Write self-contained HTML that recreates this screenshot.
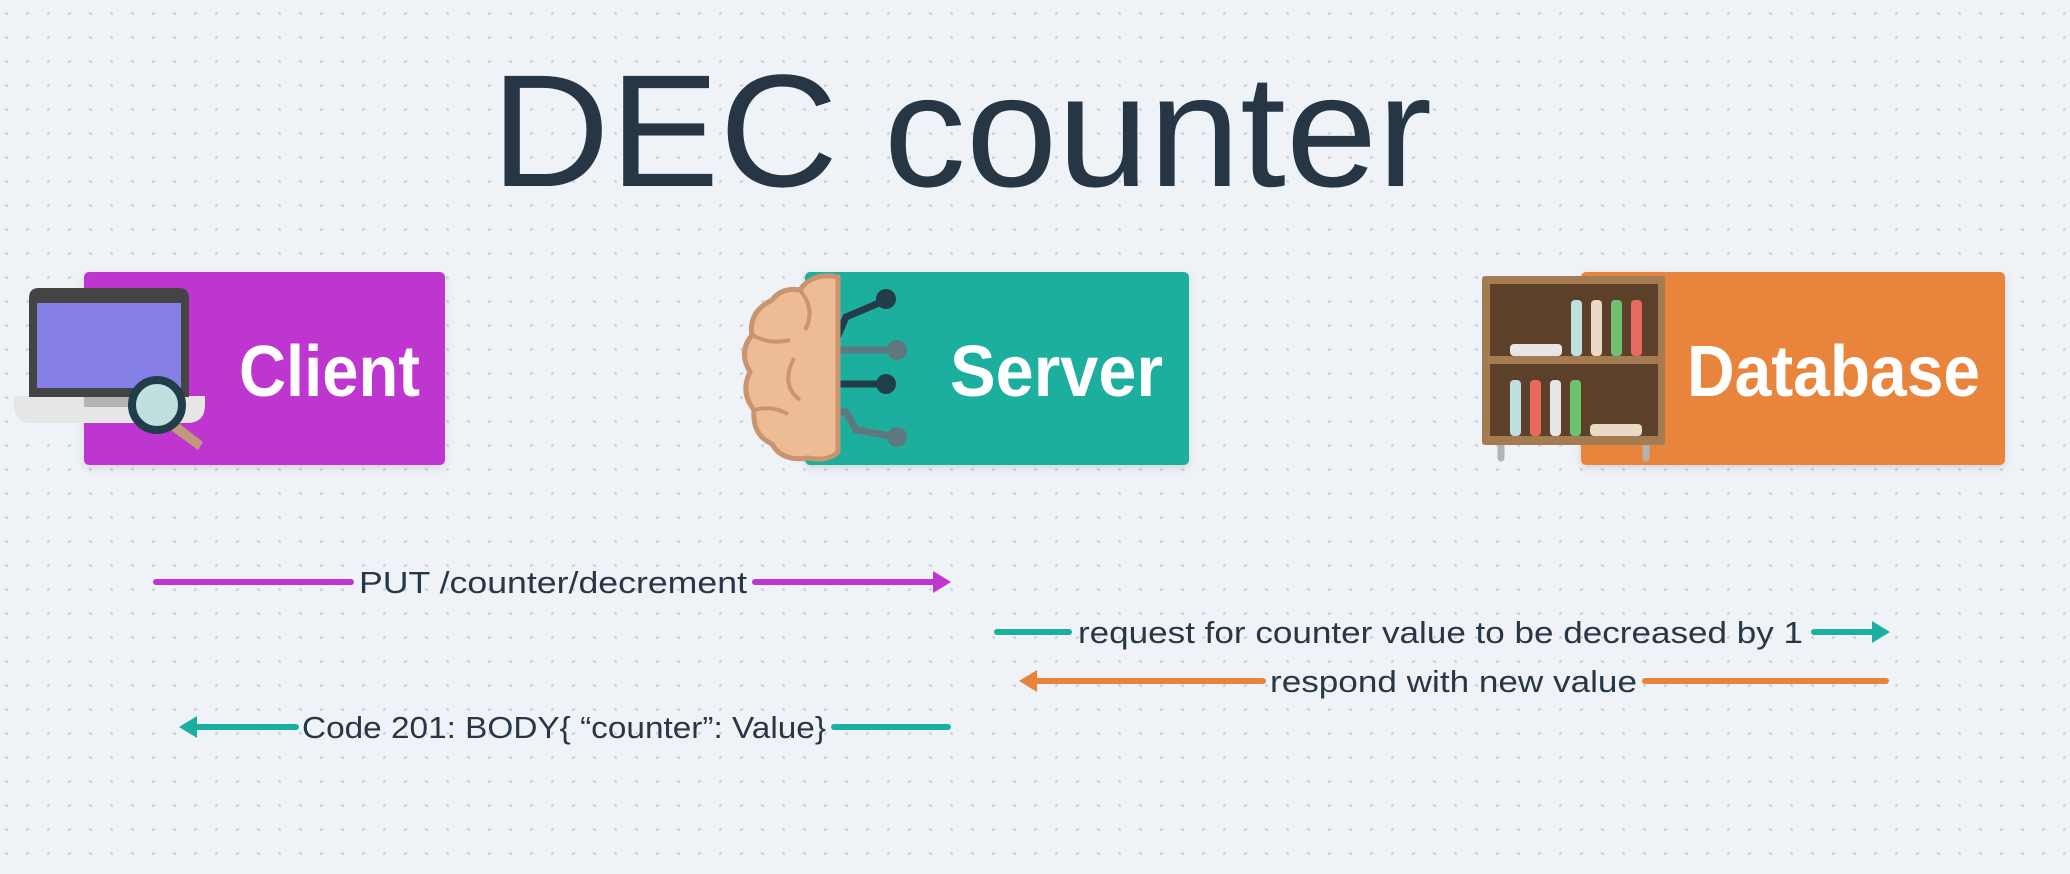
<!DOCTYPE html>
<html><head><meta charset="utf-8"><style>
html,body{margin:0;padding:0;background:#eff3f7;}
svg{display:block;}
</style></head><body>
<svg width="2070" height="874" viewBox="0 0 2070 874" xmlns="http://www.w3.org/2000/svg" font-family="'Liberation Sans', sans-serif">
<defs>
<pattern id="dots" width="21" height="24" patternUnits="userSpaceOnUse" x="5" y="12">
<circle cx="1.5" cy="1.5" r="1.5" fill="#cdd5de"/>
</pattern>
<filter id="sh" x="-10%" y="-10%" width="120%" height="130%"><feDropShadow dx="0" dy="3" stdDeviation="4" flood-color="#000" flood-opacity="0.12"/></filter>
</defs>
<rect width="2070" height="874" fill="#eff3f7"/>
<rect width="2070" height="874" fill="url(#dots)"/>

<text x="491" y="186" font-size="160" fill="#263645" textLength="941" lengthAdjust="spacingAndGlyphs">DEC counter</text>

<!-- boxes -->
<rect x="84" y="272" width="361" height="193" rx="5" fill="#bf35d0" filter="url(#sh)"/>
<rect x="805" y="272" width="384" height="193" rx="5" fill="#1aaf9e" filter="url(#sh)"/>
<rect x="1581" y="272" width="424" height="193" rx="5" fill="#e8843a" filter="url(#sh)"/>
<text x="239" y="396" font-size="72" font-weight="bold" fill="#fff" textLength="181" lengthAdjust="spacingAndGlyphs">Client</text>
<text x="950" y="396" font-size="72" font-weight="bold" fill="#fff" textLength="213" lengthAdjust="spacingAndGlyphs">Server</text>
<text x="1687" y="396" font-size="72" font-weight="bold" fill="#fff" textLength="293" lengthAdjust="spacingAndGlyphs">Database</text>

<!-- monitor icon -->
<path d="M14 396 H205 V405 Q205 423 187 423 H32 Q14 423 14 405 Z" fill="#e6e6e6"/>
<rect x="84" y="396" width="69" height="11" fill="#b3b3b3"/>
<path d="M29 298 Q29 288 39 288 H179 Q189 288 189 298 V397 H29 Z" fill="#444"/>
<rect x="37" y="303" width="144" height="85" fill="#8680e6"/>
<path d="M172 418 L203 442 L198 450 L168 428 Z" fill="#c09a7a"/>
<circle cx="157" cy="405" r="25" fill="#c0e0e0" stroke="#213d4a" stroke-width="8"/>

<!-- brain icon -->
<g stroke-linecap="round">
<path d="M815 340 H836 L846 317 L886 300" fill="none" stroke="#223d4a" stroke-width="7"/>
<circle cx="886" cy="299" r="10" fill="#223d4a"/>
<line x1="815" y1="350" x2="897" y2="350" stroke="#5f7880" stroke-width="7"/>
<circle cx="897" cy="350" r="10" fill="#5f7880"/>
<line x1="815" y1="384" x2="886" y2="384" stroke="#223d4a" stroke-width="7"/>
<circle cx="886" cy="384" r="10" fill="#223d4a"/>
<path d="M815 412 H846 L856 430 L897 437" fill="none" stroke="#5f7880" stroke-width="7"/>
<circle cx="897" cy="437" r="10" fill="#5f7880"/>
</g>
<path d="M838 277 Q812 272 800 290 Q782 287 772 300 Q748 312 752 335 Q738 352 750 372 Q740 392 754 410 Q752 435 772 444 Q782 462 808 458 Q828 462 838 452 Z" fill="#eebc94" stroke="#c99470" stroke-width="5"/>
<path d="M800 290 Q816 310 805 330 M752 335 Q770 345 790 340 M794 358 Q780 385 800 400 M754 410 Q772 405 788 414" fill="none" stroke="#c99470" stroke-width="4"/>

<!-- bookshelf -->
<line x1="1501" y1="440" x2="1501" y2="458" stroke="#b3b3b3" stroke-width="7" stroke-linecap="round"/>
<line x1="1646" y1="440" x2="1646" y2="458" stroke="#b3b3b3" stroke-width="7" stroke-linecap="round"/>
<rect x="1482" y="276" width="183" height="169" rx="3" fill="#a57c52"/>
<rect x="1490" y="284" width="168" height="72" fill="#5d4029"/>
<rect x="1490" y="364" width="168" height="72" fill="#5d4029"/>
<g>
<rect x="1571" y="300" width="11" height="56" rx="4" fill="#c0e0e0"/>
<rect x="1591" y="300" width="11" height="56" rx="4" fill="#ead9c6"/>
<rect x="1611" y="300" width="11" height="56" rx="4" fill="#6fc370"/>
<rect x="1631" y="300" width="11" height="56" rx="4" fill="#e86a5f"/>
<rect x="1510" y="344" width="52" height="12" rx="4" fill="#e6e6e6"/>
<rect x="1510" y="380" width="11" height="56" rx="4" fill="#c0e0e0"/>
<rect x="1530" y="380" width="11" height="56" rx="4" fill="#e86a5f"/>
<rect x="1550" y="380" width="11" height="56" rx="4" fill="#e6e6e6"/>
<rect x="1570" y="380" width="11" height="56" rx="4" fill="#6fc370"/>
<rect x="1590" y="424" width="52" height="12" rx="4" fill="#ead9c6"/>
</g>

<!-- arrows -->
<g stroke-width="6" stroke-linecap="round" fill="none">
<line x1="156" y1="582" x2="351" y2="582" stroke="#bf35d0"/>
<line x1="755" y1="582" x2="938" y2="582" stroke="#bf35d0"/>
<line x1="997" y1="632" x2="1069" y2="632" stroke="#1aaf9e"/>
<line x1="1814" y1="632" x2="1876" y2="632" stroke="#1aaf9e"/>
<line x1="1032" y1="681" x2="1263" y2="681" stroke="#e8843a"/>
<line x1="1645" y1="681" x2="1886" y2="681" stroke="#e8843a"/>
<line x1="192" y1="727" x2="296" y2="727" stroke="#1aaf9e"/>
<line x1="834" y1="727" x2="948" y2="727" stroke="#1aaf9e"/>
</g>
<polygon points="951,582 933,571 933,593" fill="#bf35d0"/>
<polygon points="1890,632 1872,621 1872,643" fill="#1aaf9e"/>
<polygon points="1019,681 1037,670 1037,692" fill="#e8843a"/>
<polygon points="179,727 197,716 197,738" fill="#1aaf9e"/>

<g font-size="31" fill="#283746">
<text x="359" y="593" textLength="388" lengthAdjust="spacingAndGlyphs">PUT /counter/decrement</text>
<text x="1078" y="643" textLength="725" lengthAdjust="spacingAndGlyphs">request for counter value to be decreased  by 1</text>
<text x="1270" y="692" textLength="367" lengthAdjust="spacingAndGlyphs">respond with new value</text>
<text x="302" y="738" textLength="524" lengthAdjust="spacingAndGlyphs">Code 201: BODY{ “counter”: Value}</text>
</g>
</svg>
</body></html>
